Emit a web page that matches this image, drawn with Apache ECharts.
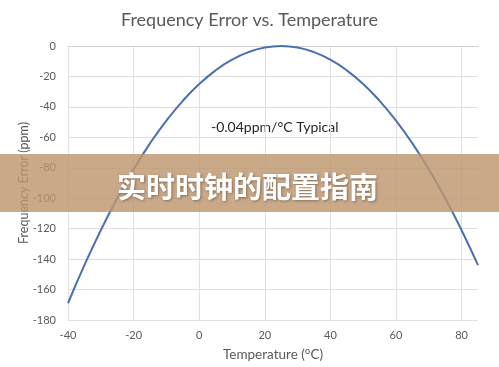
<!DOCTYPE html>
<html><head><meta charset="utf-8">
<script src="https://cdn.jsdelivr.net/npm/echarts@6/dist/echarts.min.js"></script>
<style>html,body{margin:0;padding:0;background:#fff}#c{width:499px;height:367px}</style>
</head><body><div id="c"></div>
<script>
const temperatures = [-40,-35,-30,-25,-20,-15,-10,-5,0,5,10,15,20,25,30,35,40,45,50,55,60,65,70,75,80,85];
const freqError = [-169,-144,-121,-100,-81,-64,-49,-36,-25,-16,-9,-4,-1,0,-1,-4,-9,-16,-25,-36,-49,-64,-81,-100,-121,-144];
const xTicks = [-40,-20,0,20,40,60,80];
const titleText = 'Frequency Error vs. Temperature';
const xName = 'Temperature (°C)';
const yName = 'Frequency Error (ppm)';
const noteText = '-0.04ppm/°C Typical';
const bannerText = '实时时钟的配置指南';

const chart = echarts.init(document.getElementById('c'), null, {renderer:'canvas'});
const F = 'Lato, "Open Sans", sans-serif';
chart.setOption({
  animation:false,
  title:{text:titleText,left:'center',top:6,textStyle:{fontFamily:F,fontSize:18,fontWeight:'normal',color:'#595959'}},
  grid:{left:68,right:21,top:46,bottom:46},
  xAxis:{type:'value',min:-40,max:85,interval:20,
    name:xName,nameLocation:'middle',nameGap:28,
    nameTextStyle:{fontFamily:F,fontSize:13.5,color:'#595959'},
    axisLine:{show:true,lineStyle:{color:'#d0d0d0',width:1}},
    axisTick:{show:false,customValues:xTicks},
    axisLabel:{customValues:xTicks,fontFamily:F,fontSize:11,color:'#595959',margin:10},
    splitLine:{show:true,lineStyle:{color:'#e0e0e0',width:1}}
  },
  yAxis:{type:'value',min:-180,max:0,interval:20,
    name:yName,nameLocation:'middle',nameGap:38,nameMoveOverlap:false,
    nameTextStyle:{fontFamily:F,fontSize:12.5,color:'#595959'},
    axisLine:{show:false},axisTick:{show:false},
    axisLabel:{fontFamily:F,fontSize:11,color:'#595959',margin:12},
    splitLine:{show:true,lineStyle:{color:'#e0e0e0',width:1}}
  },
  series:[{type:'line',data:temperatures.map((t,i)=>[t,freqError[i]]),smooth:true,symbol:'none',
    lineStyle:{color:'#4a70b0',width:2}}],
  graphic:[
    {type:'text',left:211,top:120,style:{text:noteText,fontFamily:F,fontSize:14,fill:'#262626'}},
    {type:'rect',left:0,top:154,shape:{width:499,height:58},style:{fill:'rgba(190,150,110,0.82)'},z:100},
    {type:'text',left:117,top:172,z:101,style:{text:bannerText,fontFamily:'"Noto Sans CJK SC", sans-serif',fontWeight:'bold',fontSize:29,fill:'#ffffff',
      textShadowColor:'rgba(0,0,0,0.35)',textShadowBlur:3,textShadowOffsetX:1,textShadowOffsetY:1}}
  ]
});
</script></body></html>
